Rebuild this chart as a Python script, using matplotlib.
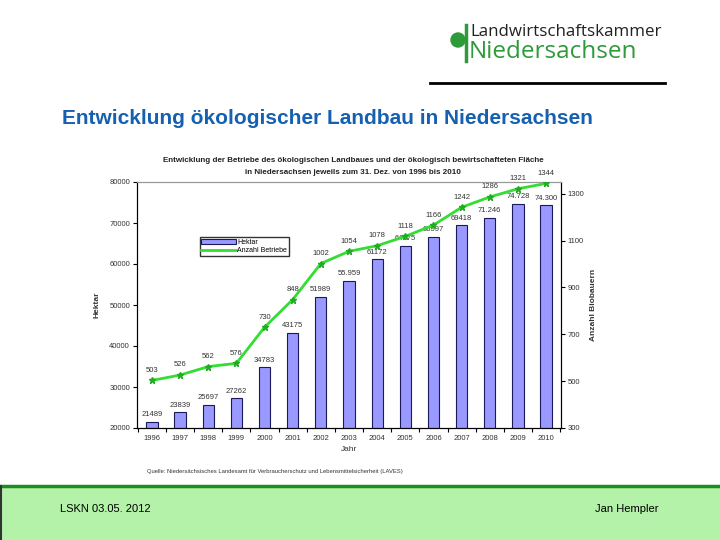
import matplotlib.pyplot as plt
from matplotlib.patches import Rectangle, Ellipse
from matplotlib.lines import Line2D

plt.rcParams['font.family'] = ['Liberation Sans', 'DejaVu Sans']

# chart data
years = ['1996', '1997', '1998', '1999', '2000', '2001', '2002', '2003',
         '2004', '2005', '2006', '2007', '2008', '2009', '2010']
hektar = [21489, 23839, 25697, 27262, 34783, 43175, 51989, 55959,
          61172, 64375, 66597, 69418, 71246, 74728, 74300]
hektar_labels = ['21489', '23839', '25697', '27262', '34783', '43175', '51989', '55.959',
                 '61172', '64375', '66597', '69418', '71.246', '74.728', '74.300']
betriebe = [503, 526, 562, 576, 730, 848, 1002, 1054, 1078, 1118, 1166, 1242, 1286, 1321, 1344]

left_ticks = [20000, 30000, 40000, 50000, 60000, 70000, 80000]
right_ticks = [300, 500, 700, 900, 1100, 1300]

W, H = 720, 540
fig = plt.figure(figsize=(7.2, 5.4), dpi=100)


def fx(px):
    return px / W


def fy(py):
    return 1 - py / H


# slide header
fig.text(fx(62), fy(118), 'Entwicklung ökologischer Landbau in Niedersachsen',
         fontsize=15, fontweight='bold', color='#1560b0', va='center', ha='left')

# logo
fig.patches.append(Ellipse((fx(458), fy(40)), 14 / W, 14 / H, transform=fig.transFigure,
                           color='#2e9a3a'))
fig.add_artist(Line2D([fx(466), fx(466)], [fy(25), fy(61)], color='#2e9a3a', lw=2.5))
fig.text(fx(470), fy(32), 'Landwirtschaftskammer', fontsize=12.2, color='#222222',
         va='center', ha='left', family=['Open Sans', 'DejaVu Sans'])
fig.text(fx(469), fy(52), 'Niedersachsen', fontsize=17.5, color='#2e9a3a',
         va='center', ha='left', family=['Open Sans', 'DejaVu Sans'])
fig.add_artist(Line2D([fx(430), fx(665)], [fy(83), fy(83)], color='black', lw=2))

# footer
fig.patches.append(Rectangle((0, 0), 1, fy(486), transform=fig.transFigure,
                             facecolor='#b3f2a8', edgecolor='none'))
fig.add_artist(Line2D([0, 1], [fy(486), fy(486)], color='#1e8c1e', lw=2.5))
fig.add_artist(Line2D([fx(1), fx(1)], [0, fy(486)], color='#333333', lw=1.5))
fig.text(fx(60), fy(509), 'LSKN 03.05. 2012', fontsize=8, va='center', ha='left')
fig.text(fx(595), fy(509), 'Jan Hempler', fontsize=8, va='center', ha='left')

# chart
ax = fig.add_axes([fx(137), fy(428), fx(561) - fx(137), (428 - 182) / H])
ax2 = ax.twinx()
x = list(range(len(years)))

ax.bar(x, hektar, width=0.4, color='#9999ff', edgecolor='#1a1a5a', linewidth=0.8,
       label='Hektar', zorder=2)
ax.set_ylim(20000, 80000)
ax.set_xlim(-0.53, 14.53)
ax.set_yticks(left_ticks)
ax.set_yticklabels([str(v) for v in left_ticks], fontsize=5.5, color='#333333')
ax.set_xticks(x)
ax.set_xticklabels(years, fontsize=5.5, color='#333333')
ax.tick_params(axis='x', length=0, pad=5)
ax.set_xticks([i - 0.5 for i in range(len(years) + 1)], minor=True)
ax.tick_params(axis='x', which='minor', length=3, width=0.8)
ax.tick_params(axis='y', length=3, width=0.8, pad=2)
for i, v in enumerate(hektar):
    ax.text(i, v + 900, hektar_labels[i], fontsize=5.5, ha='center', va='bottom',
            color='#333333', zorder=4)

ax.set_xlabel('Jahr', fontsize=6, color='#333333', labelpad=3)
ax.set_ylabel('Hektar', fontsize=6, fontweight='bold', color='#333333', labelpad=6)

ax2.plot(x, betriebe, color='#33dd33', lw=2, marker='*', ms=5, mfc='#22aa22',
         mec='#22aa22', label='Anzahl Betriebe', zorder=3)
ax2.set_ylim(300, 1350)
ax2.set_yticks(right_ticks)
ax2.set_yticklabels([str(v) for v in right_ticks], fontsize=5.5, color='#333333')
ax2.tick_params(axis='y', length=3, width=0.8, pad=2)
ax2.set_ylabel('Anzahl Biobauern', fontsize=6, fontweight='bold', color='#333333',
               labelpad=4)
for i, v in enumerate(betriebe):
    ax2.text(i, v + 28, str(v), fontsize=5.5, ha='center', va='bottom',
             color='#333333', zorder=4)

for a in (ax, ax2):
    a.spines['top'].set_color('#999999')
    a.spines['top'].set_linewidth(0.8)
    a.spines['left'].set_linewidth(0.8)
    a.spines['right'].set_linewidth(0.8)
    a.spines['bottom'].set_linewidth(0.8)

h1, l1 = ax.get_legend_handles_labels()
h2, l2 = ax2.get_legend_handles_labels()
ax2.legend(h1 + h2, l1 + l2, loc='upper left', bbox_to_anchor=(0.148, 0.775),
           fontsize=5, frameon=True, fancybox=False, edgecolor='black',
           borderpad=0.25, handlelength=5, labelspacing=0.15, handletextpad=0.1,
           borderaxespad=0, markerscale=0.01)

fig.text(fx(353), fy(161), 'Entwicklung der Betriebe des ökologischen Landbaues und der ökologisch bewirtschafteten Fläche',
         fontsize=5.8, fontweight='bold', ha='center', va='center', color='#222222')
fig.text(fx(353), fy(173), 'in Niedersachsen jeweils zum 31. Dez. von 1996 bis 2010',
         fontsize=5.8, fontweight='bold', ha='center', va='center', color='#222222')
fig.text(fx(147), fy(472), 'Quelle: Niedersächsisches Landesamt für Verbraucherschutz und Lebensmittelsicherheit (LAVES)',
         fontsize=4.2, ha='left', va='center', color='#333333')

fig.savefig('out.png', dpi=100)
